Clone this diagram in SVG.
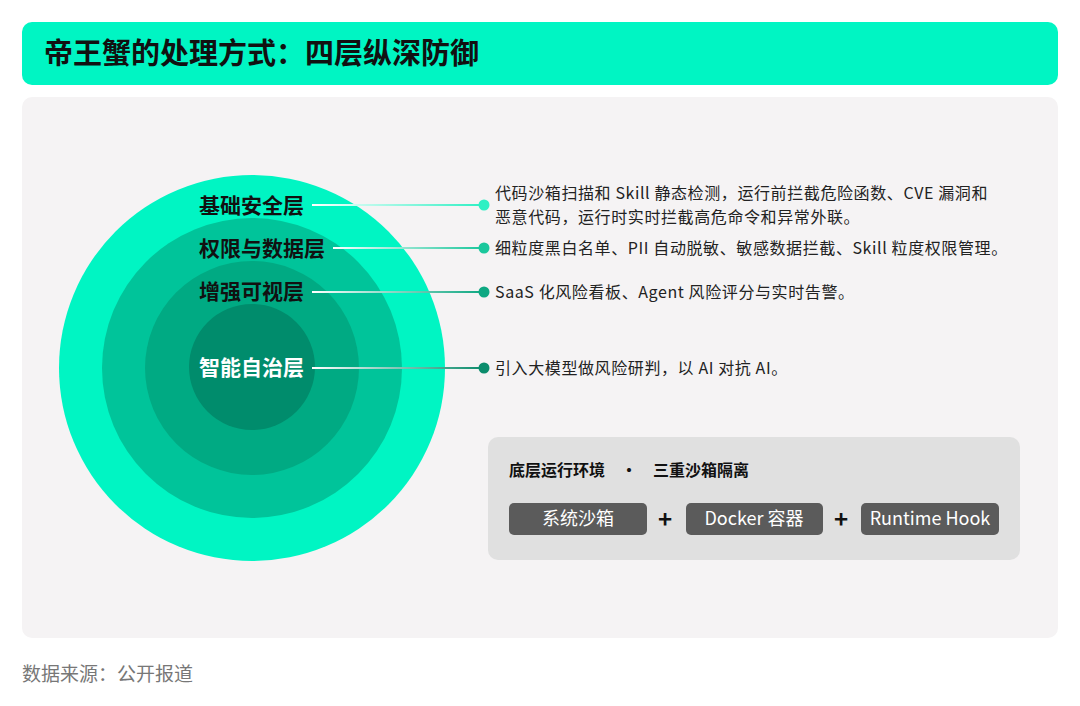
<svg xmlns="http://www.w3.org/2000/svg" width="1080" height="706" viewBox="0 0 1080 706">
<style>
text{font-family:"Noto Sans CJK SC","Noto Sans",sans-serif}
.lbl{font-size:21px;font-weight:700;fill:#111}
.desc{font-size:16px;fill:#222;letter-spacing:0.6px}
.btn{fill:#5b5b5b}
.bt{font-size:18px;fill:#fff;text-anchor:middle}
.plus{font-size:24px;font-weight:700;fill:#111;text-anchor:middle}
</style>
<defs>
<linearGradient id="g1" x1="0" x2="1"><stop offset="0" stop-color="#fff"/><stop offset="1" stop-color="#2ef0c4"/></linearGradient>
<linearGradient id="g2" x1="0" x2="1"><stop offset="0" stop-color="#fff"/><stop offset="1" stop-color="#1ac79c"/></linearGradient>
<linearGradient id="g3" x1="0" x2="1"><stop offset="0" stop-color="#fff"/><stop offset="1" stop-color="#0ea882"/></linearGradient>
<linearGradient id="g4" x1="0" x2="1"><stop offset="0" stop-color="#fff"/><stop offset="1" stop-color="#0b8c6c"/></linearGradient>
</defs>
<rect width="1080" height="706" fill="#fff"/>
<g id="title"><rect x="22" y="22" width="1036" height="63" rx="10" fill="#00f5c3"/>
<text x="44" y="64" font-size="29" font-weight="700" fill="#111">帝王蟹的处理方式：四层纵深防御</text></g>
<rect x="22" y="97" width="1036" height="541" rx="10" fill="#f5f3f4"/>
<g id="rings">
<circle cx="252" cy="368" r="193" fill="#00f5c3"/>
<circle cx="252" cy="368" r="150" fill="#00c49a"/>
<circle cx="252" cy="368" r="107" fill="#00aa83"/>
<circle cx="252" cy="367" r="63" fill="#008c6c"/>
</g>
<g id="connectors">
<rect x="312" y="204" width="171" height="2" fill="url(#g1)"/><circle cx="484" cy="205" r="5.5" fill="#2ef0c4"/>
<rect x="333" y="247" width="150" height="2" fill="url(#g2)"/><circle cx="484" cy="248" r="5.5" fill="#1ac79c"/>
<rect x="312" y="291" width="171" height="2" fill="url(#g3)"/><circle cx="484" cy="292" r="5.5" fill="#0ea882"/>
<rect x="312" y="367" width="171" height="2" fill="url(#g4)"/><circle cx="484" cy="368" r="5.5" fill="#0b8c6c"/>
</g>
<g id="layer1"><text class="lbl" x="199" y="213">基础安全层</text>
<text class="desc" x="495" y="199">代码沙箱扫描和 Skill 静态检测，运行前拦截危险函数、CVE 漏洞和</text>
<text class="desc" x="495" y="223">恶意代码，运行时实时拦截高危命令和异常外联。</text></g>
<g id="layer2"><text class="lbl" x="199" y="256">权限与数据层</text>
<text class="desc" x="495" y="254">细粒度黑白名单、PII 自动脱敏、敏感数据拦截、Skill 粒度权限管理。</text></g>
<g id="layer3"><text class="lbl" x="199" y="299">增强可视层</text>
<text class="desc" x="495" y="298">SaaS 化风险看板、Agent 风险评分与实时告警。</text></g>
<g id="layer4"><text class="lbl" x="199" y="375" style="fill:#fff">智能自治层</text>
<text class="desc" x="495" y="374">引入大模型做风险研判，以 AI 对抗 AI。</text></g>
<g id="runtime">
<rect x="488" y="437" width="532" height="123" rx="10" fill="#e0e0e0"/>
<text x="509" y="476" font-size="16" font-weight="700" fill="#111">底层运行环境　·　三重沙箱隔离</text>
<rect class="btn" x="509" y="503" width="138" height="32" rx="5"/><text class="bt" x="578" y="525">系统沙箱</text>
<text class="plus" x="665" y="528">+</text>
<rect class="btn" x="686" y="503" width="137" height="32" rx="5"/><text class="bt" x="754" y="525">Docker 容器</text>
<text class="plus" x="841" y="528">+</text>
<rect class="btn" x="861" y="503" width="138" height="32" rx="5"/><text class="bt" x="930" y="525">Runtime Hook</text>
</g>
<text x="22" y="681" font-size="19" fill="#777">数据来源：公开报道</text>
</svg>
